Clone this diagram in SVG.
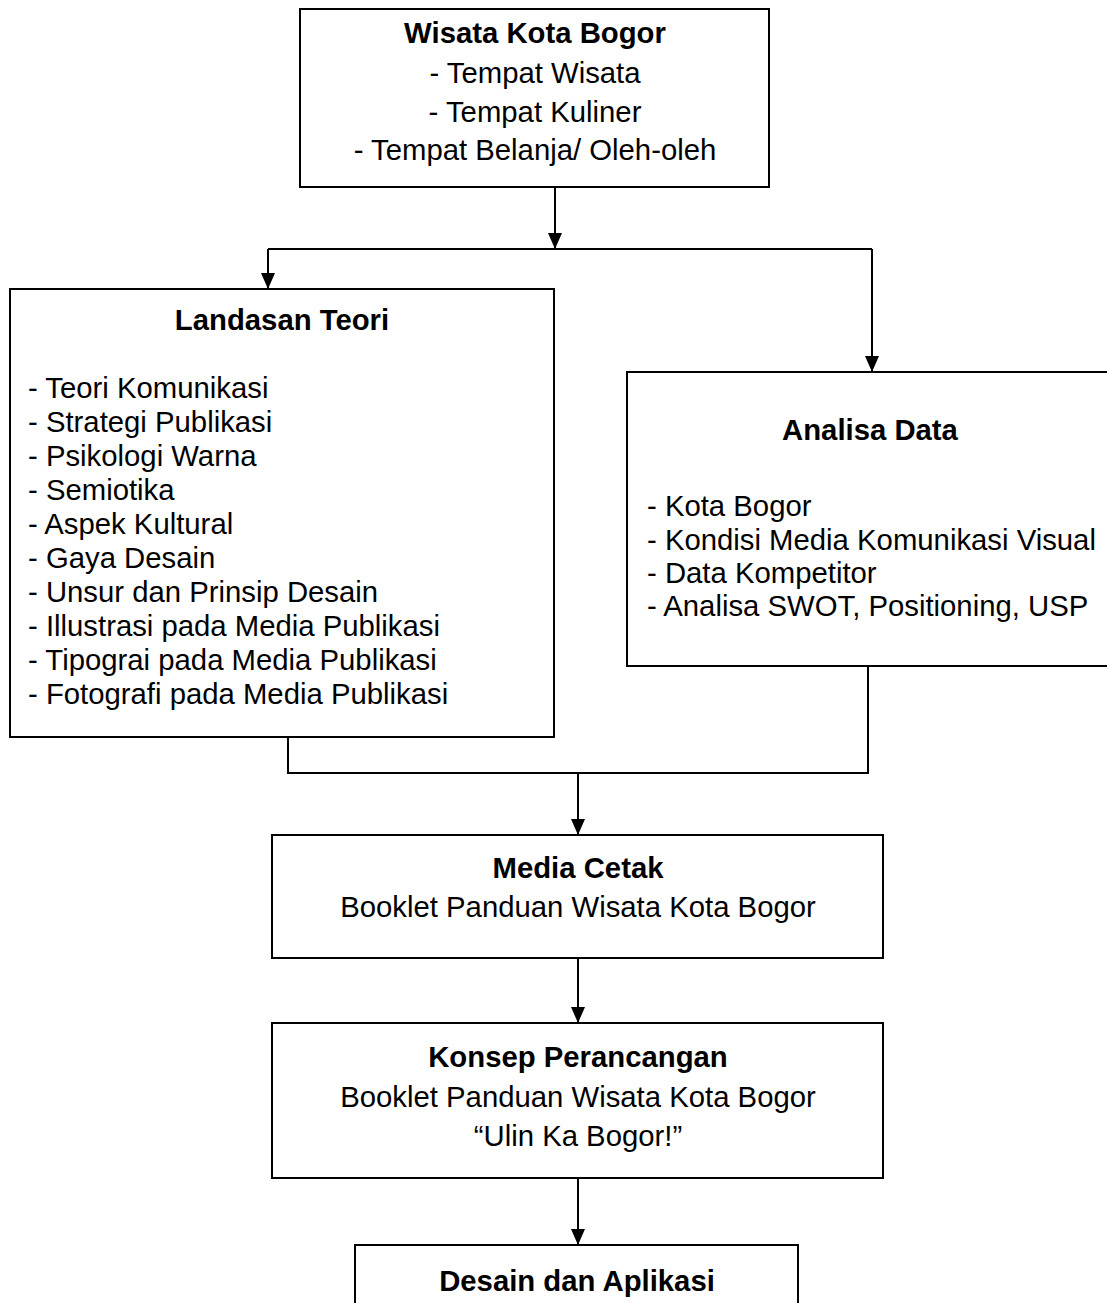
<svg xmlns="http://www.w3.org/2000/svg" width="1107" height="1303" viewBox="0 0 1107 1303">
  <defs>
    <marker id="arrow" viewBox="0 0 16 14" refX="16" refY="7" markerWidth="16" markerHeight="14" markerUnits="userSpaceOnUse" orient="auto">
      <path d="M0,0 L16,7 L0,14 Z" fill="#000"/>
    </marker>
  </defs>
  <style>
    .box { fill: #fff; stroke: #000; stroke-width: 2; }
    .conn { fill: none; stroke: #000; stroke-width: 2; }
    text { font-family: "Liberation Sans", Arial, sans-serif; font-size: 29.3px; fill: #000; }
    .b { font-weight: bold; }
    .c { text-anchor: middle; }
  </style>
  <rect width="1107" height="1303" fill="#fff"/>

  <g id="connectors">
    <path class="conn" d="M555,187 L555,249" marker-end="url(#arrow)"/>
    <path class="conn" d="M268,249 L872,249"/>
    <path class="conn" d="M268,249 L268,289" marker-end="url(#arrow)"/>
    <path class="conn" d="M872,249 L872,372" marker-end="url(#arrow)"/>
    <path class="conn" d="M288,737 L288,773 L868,773 L868,666"/>
    <path class="conn" d="M578,773 L578,835" marker-end="url(#arrow)"/>
    <path class="conn" d="M578,958 L578,1023" marker-end="url(#arrow)"/>
    <path class="conn" d="M578,1178 L578,1245" marker-end="url(#arrow)"/>
  </g>

  <g id="wisata">
    <rect class="box" x="300" y="9" width="469" height="178"/>
    <text class="b c" x="535" y="43">Wisata Kota Bogor</text>
    <text class="c" x="535" y="83">- Tempat Wisata</text>
    <text class="c" x="535" y="122">- Tempat Kuliner</text>
    <text class="c" x="535" y="160">- Tempat Belanja/ Oleh-oleh</text>
  </g>

  <g id="landasan">
    <rect class="box" x="10" y="289" width="544" height="448"/>
    <text class="b c" x="282" y="330">Landasan Teori</text>
    <text x="28" y="398">- Teori Komunikasi</text>
    <text x="28" y="432">- Strategi Publikasi</text>
    <text x="28" y="466">- Psikologi Warna</text>
    <text x="28" y="500">- Semiotika</text>
    <text x="28" y="534">- Aspek Kultural</text>
    <text x="28" y="568">- Gaya Desain</text>
    <text x="28" y="602">- Unsur dan Prinsip Desain</text>
    <text x="28" y="636">- Illustrasi pada Media Publikasi</text>
    <text x="28" y="670">- Tipograi pada Media Publikasi</text>
    <text x="28" y="704">- Fotografi pada Media Publikasi</text>
  </g>

  <g id="analisa">
    <rect class="box" x="627" y="372" width="500" height="294"/>
    <text class="b c" x="870" y="440">Analisa Data</text>
    <text x="647" y="516">- Kota Bogor</text>
    <text x="647" y="550">- Kondisi Media Komunikasi Visual</text>
    <text x="647" y="583">- Data Kompetitor</text>
    <text x="647" y="616">- Analisa SWOT, Positioning, USP</text>
  </g>

  <g id="media">
    <rect class="box" x="272" y="835" width="611" height="123"/>
    <text class="b c" x="578" y="878">Media Cetak</text>
    <text class="c" x="578" y="917">Booklet Panduan Wisata Kota Bogor</text>
  </g>

  <g id="konsep">
    <rect class="box" x="272" y="1023" width="611" height="155"/>
    <text class="b c" x="578" y="1067">Konsep Perancangan</text>
    <text class="c" x="578" y="1107">Booklet Panduan Wisata Kota Bogor</text>
    <text class="c" x="578" y="1146">“Ulin Ka Bogor!”</text>
  </g>

  <g id="desain">
    <rect class="box" x="355" y="1245" width="443" height="80"/>
    <text class="b c" x="577" y="1291">Desain dan Aplikasi</text>
  </g>
</svg>
